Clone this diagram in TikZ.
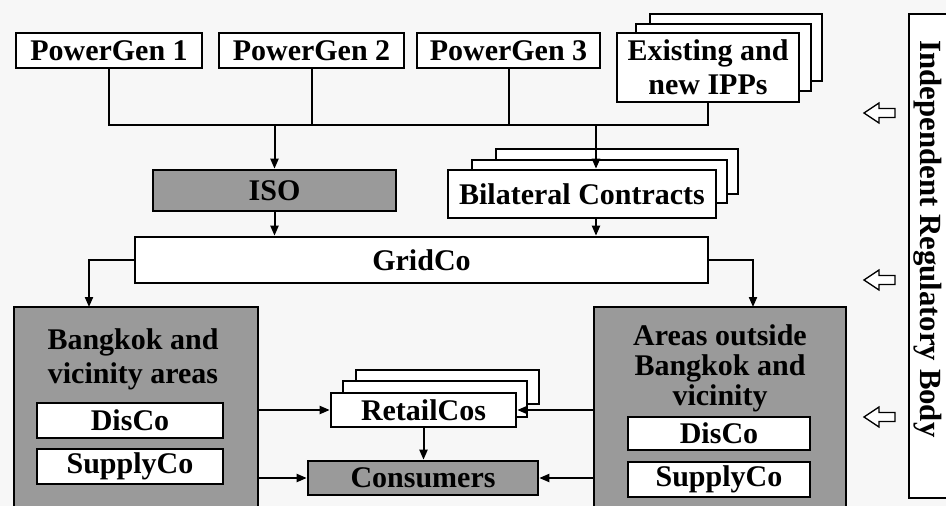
\documentclass[tikz,border=0pt]{standalone}
\usepackage{fontspec}
\setmainfont{Liberation Serif}
\usetikzlibrary{arrows.meta}
\definecolor{shade}{HTML}{9A9A9A}
\definecolor{paper}{HTML}{F7F7F7}
\begin{document}
\begin{tikzpicture}[x=1pt,y=-1pt,
  txt/.style={inner sep=0pt, align=center, font=\fontsize{30}{34}\selectfont\bfseries},
  box/.style={txt, draw, line width=2.6pt, fill=white},
  darkbox/.style={box, fill=shade},
  wire/.style={line width=2pt},
  arr/.style={wire, -{Triangle[length=10pt,width=8pt]}},
  hollow/.style={draw, line width=1.3pt, fill=white, line join=miter}]
\useasboundingbox (0,0) rectangle (946,506);
\clip (0,0) rectangle (946,506);
\fill[paper] (0,0) rectangle (946,506);

% top row
\node[box, minimum width=186pt, minimum height=35pt] (pg1) at (109,50.5) {PowerGen 1};
\node[box, minimum width=185pt, minimum height=35pt] (pg2) at (311.5,50.5) {PowerGen 2};
\node[box, minimum width=183pt, minimum height=35pt] (pg3) at (508.5,50.5) {PowerGen 3};
\node[box, minimum width=172pt, minimum height=67pt] (ipp3) at (736,47.5) {};
\node[box, minimum width=175pt, minimum height=67pt] (ipp2) at (723.5,57.5) {};
\node[box, minimum width=182pt, minimum height=69pt] (ipp) at (708,67.5) {Existing and\\new IPPs};

% second row
\node[darkbox, minimum width=243pt, minimum height=41pt] (iso) at (274.5,190.5) {ISO};
\node[box, minimum width=242pt, minimum height=45pt] (bil3) at (617,171.5) {};
\node[box, minimum width=255pt, minimum height=43pt] (bil2) at (599.5,181.5) {};
\node[box, minimum width=268pt, minimum height=48pt] (bil) at (582,194) {Bilateral Contracts};

% GridCo
\node[box, minimum width=573pt, minimum height=46pt] (gridco) at (421.5,260) {GridCo};

% Bangkok area
\node[darkbox, minimum width=244pt, minimum height=213pt] (bk) at (136,413.5) {};
\node[txt] (bktitle) at (133,359) {Bangkok and\\vicinity areas};
\node[box, minimum width=186pt, minimum height=35pt] (bkdisco) at (130,420.5) {DisCo};
\node[box, minimum width=186pt, minimum height=35pt] (bksupply) at (130,466.5) {SupplyCo};

% Outside area
\node[darkbox, minimum width=252pt, minimum height=213pt] (out) at (720,413.5) {};
\node[txt, font=\fontsize{30}{30}\selectfont\bfseries] (outtitle) at (720,368) {Areas outside\\Bangkok and\\vicinity};
\node[box, minimum width=182pt, minimum height=33pt] (outdisco) at (719,433.5) {DisCo};
\node[box, minimum width=182pt, minimum height=35pt] (outsupply) at (719,479.5) {SupplyCo};

% RetailCos and Consumers
\node[box, minimum width=183pt, minimum height=34pt] (retail3) at (447.5,387) {};
\node[box, minimum width=184pt, minimum height=36pt] (retail2) at (435,399) {};
\node[box, minimum width=185pt, minimum height=34pt] (retail) at (423.5,410) {RetailCos};
\node[darkbox, minimum width=230pt, minimum height=34pt] (cons) at (423,478) {Consumers};

% Regulator
\node[box, minimum width=51pt, minimum height=484pt] (reg) at (934.5,256) {};
\node[txt, rotate=-90, font=\fontsize{30.8}{34}\selectfont\bfseries] (regtext) at (928,239) {Independent Regulatory Body};

% connectors
\coordinate (bus1) at (109,125);
\coordinate (bus4) at (708,125);
\coordinate (bilin) at (596,125);
\coordinate (bkin) at (89,307);
\coordinate (outin) at (753,307);
\draw[wire] (pg1.south) -- (bus1) -- (bus4) -- (ipp.south);
\draw[wire] (pg2.south) -- (pg2.south |- bus1);
\draw[wire] (pg3.south) -- (pg3.south |- bus1);
\draw[arr] (iso.north |- bus1) -- (iso.north);
\draw[arr] (bilin) -- (bilin |- bil.north);
\draw[arr] (iso.south) -- (iso.south |- gridco.north);
\draw[arr] (bil.south -| bilin) -- (bilin |- gridco.north);
\draw[arr] (gridco.west) -| (bkin);
\draw[arr] (gridco.east) -| (outin);
\draw[arr] (bk.east |- retail.west) -- (retail.west);
\draw[arr] (bk.east |- cons.west) -- (cons.west);
\draw[arr] (retail.south) -- (retail.south |- cons.north);
\draw[arr] (out.west |- retail.east) -- (retail.east);
\draw[arr] (out.west |- cons.east) -- (cons.east);

% hollow arrows from regulator
\foreach \yy/\nm in {113/h1, 280/h2, 417/h3} {
  \coordinate (\nm) at (864,\yy);
  \draw[hollow] (\nm) -- ++(15,-10) -- ++(0,5.5) -- ++(16,0) -- ++(0,9) -- ++(-16,0) -- ++(0,5.5) -- cycle;
}
\end{tikzpicture}
\end{document}
